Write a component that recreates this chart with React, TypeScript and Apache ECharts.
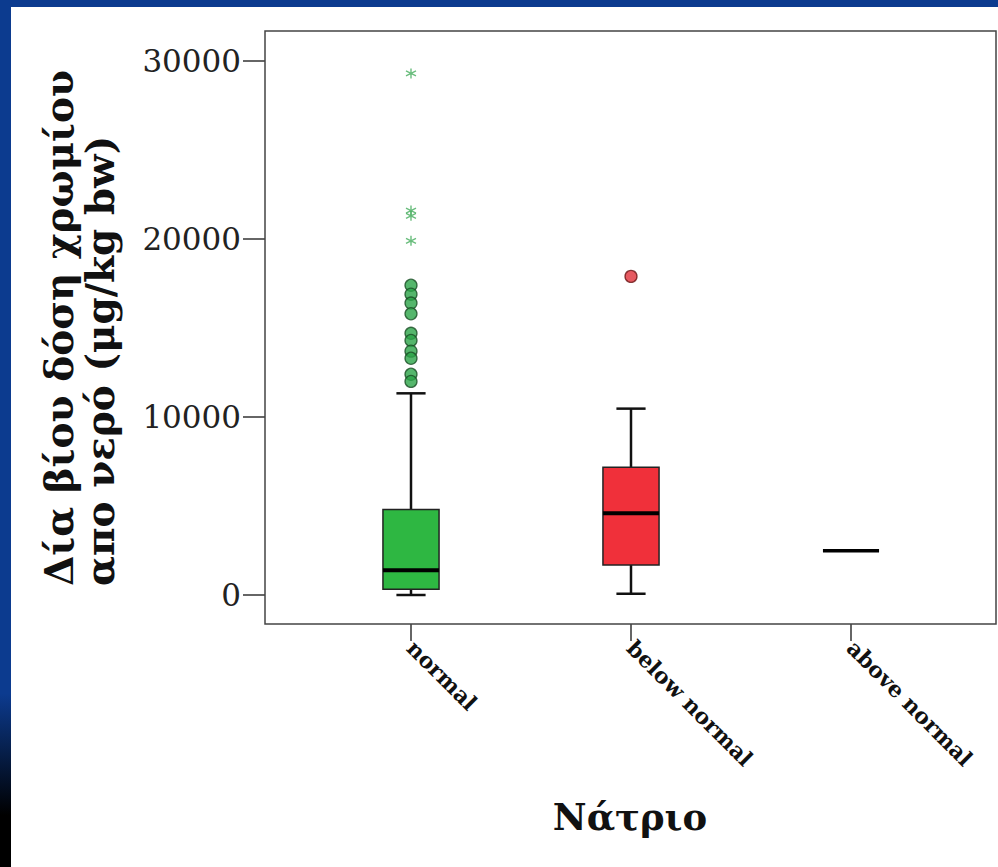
import React, { useEffect, useRef } from "react";
import * as echarts from "echarts";

// ---- data ----
const categories = ["normal", "below normal", "above normal"];
// [min, Q1, median, Q3, max]
const boxStats = [
  [0, 320, 1390, 4810, 11330],
  [70, 1690, 4590, 7170, 10470],
  [2480, 2480, 2480, 2480, 2480],
];
const boxColors = ["#2eb742", "#f0303a", "#2eb742"];
// outliers (circles)
const outlierNormal = [17400, 16900, 16400, 15800, 14700, 14300, 13700, 13300, 12400, 12000];
const outlierBelow = [17900];
// extremes (stars)
const extremeNormal = [29300, 21600, 21300, 19900];
const yTicks = { min: 0, max: 30000, interval: 10000 };
const yTitleLines = ["Δία βίου δόση χρωμίου", "απο νερό (μg/kg bw)"];
const xTitle = "Νάτριο";

const STAR = "path://M0,-10L0,10M-8.66,-5L8.66,5M-8.66,5L8.66,-5";
const SERIF = "'DejaVu Serif', serif";

export default function App() {
  const ref = useRef<HTMLDivElement>(null);
  useEffect(() => {
    if (!ref.current) return;
    const chart = echarts.init(ref.current, null, { renderer: "svg" });
    const boxData = boxStats.map((s, i) => [i, ...s]);
    const option: any = {
      animation: false,
      backgroundColor: "#ffffff",
      grid: [
        { left: 301, right: 37, top: 61, bottom: 272, containLabel: false },
        { left: 301, right: 37, top: 31, bottom: 243, containLabel: false },
      ],
      xAxis: [
        {
          type: "category",
          gridIndex: 0,
          data: categories,
          axisLine: { show: false },
          axisTick: { show: false },
          axisLabel: { show: false },
          splitLine: { show: false },
        },
        {
          type: "category",
          gridIndex: 1,
          data: categories,
          axisLine: { show: false },
          axisTick: { show: true, length: 17, alignWithLabel: true, lineStyle: { color: "#333", width: 1.5 } },
          axisLabel: {
            rotate: -45,
            margin: 20,
            color: "#111",
            fontFamily: SERIF,
            fontWeight: "bold",
            fontSize: 22,
          },
          splitLine: { show: false },
        },
      ],
      yAxis: [
        {
          type: "value",
          gridIndex: 0,
          min: yTicks.min,
          max: yTicks.max,
          interval: yTicks.interval,
          offset: 36,
          axisLine: { show: false },
          axisTick: { show: true, length: 22, lineStyle: { color: "#333", width: 1.5 } },
          axisLabel: {
            margin: 24,
            color: "#222",
            fontFamily: SERIF,
            fontSize: 31,
            formatter: (v: number) => String(v),
          },
          splitLine: { show: false },
        },
        {
          type: "value",
          gridIndex: 1,
          show: false,
        },
      ],
      graphic: [
        {
          type: "rect",
          shape: { x: 265, y: 31, width: 731, height: 593 },
          style: { fill: "none", stroke: "#444", lineWidth: 1.5 },
          z: 100,
          silent: true,
        },
        {
          type: "rect",
          shape: { x: 0, y: 0, width: 998, height: 7 },
          style: { fill: "#0c3b8f" },
        },
        {
          type: "rect",
          shape: { x: 0, y: 0, width: 11, height: 867 },
          style: {
            fill: new echarts.graphic.LinearGradient(0, 0, 0, 1, [
              { offset: 0, color: "#0c3b8f" },
              { offset: 0.8, color: "#0c3b8f" },
              { offset: 0.94, color: "#000000" },
              { offset: 1, color: "#000000" },
            ]),
          },
        },
        {
          type: "text",
          x: 59,
          y: 586,
          rotation: Math.PI / 2,
          style: {
            text: yTitleLines[0],
            fill: "#111",
            font: `bold 39px ${SERIF}`,
            textAlign: "left",
            textVerticalAlign: "middle",
          },
        },
        {
          type: "text",
          x: 100,
          y: 586,
          rotation: Math.PI / 2,
          style: {
            text: yTitleLines[1],
            fill: "#111",
            font: `bold 39px ${SERIF}`,
            textAlign: "left",
            textVerticalAlign: "middle",
          },
        },
        {
          type: "text",
          x: 630,
          y: 817,
          style: {
            text: xTitle,
            fill: "#111",
            font: `bold 37px ${SERIF}`,
            textAlign: "center",
            textVerticalAlign: "middle",
          },
        },
      ],
      series: [
        {
          type: "custom",
          xAxisIndex: 0,
          yAxisIndex: 0,
          data: boxData,
          encode: { x: 0, y: [1, 2, 3, 4, 5] },
          renderItem: (params: any, api: any) => {
            const idx = api.value(0);
            const vals = [1, 2, 3, 4, 5].map((d) => api.value(d));
            const pts = vals.map((v: number) => api.coord([idx, v]));
            const cx = pts[0][0];
            const band = api.size([1, 0])[0];
            const bw = band * 0.255;
            const cap = bw * 0.52;
            const [pMin, pQ1, pMed, pQ3, pMax] = pts;
            const children: any[] = [];
            const flat = vals[0] === vals[4];
            if (!flat) {
              children.push(
                { type: "line", shape: { x1: cx, y1: pQ3[1], x2: cx, y2: pMax[1] }, style: { stroke: "#111", lineWidth: 2.5 } },
                { type: "line", shape: { x1: cx, y1: pQ1[1], x2: cx, y2: pMin[1] }, style: { stroke: "#111", lineWidth: 2.5 } },
                { type: "line", shape: { x1: cx - cap / 2, y1: pMax[1], x2: cx + cap / 2, y2: pMax[1] }, style: { stroke: "#111", lineWidth: 2.5 } },
                { type: "line", shape: { x1: cx - cap / 2, y1: pMin[1], x2: cx + cap / 2, y2: pMin[1] }, style: { stroke: "#111", lineWidth: 2.5 } },
                {
                  type: "rect",
                  shape: { x: cx - bw / 2, y: pQ3[1], width: bw, height: pQ1[1] - pQ3[1] },
                  style: { fill: boxColors[idx], stroke: "#222", lineWidth: 1.5 },
                }
              );
            }
            children.push({
              type: "line",
              shape: { x1: cx - bw / 2, y1: pMed[1], x2: cx + bw / 2, y2: pMed[1] },
              style: { stroke: "#000", lineWidth: flat ? 3.5 : 4 },
            });
            return { type: "group", children };
          },
          z: 2,
        },
        {
          type: "scatter",
          xAxisIndex: 0,
          yAxisIndex: 0,
          data: outlierNormal.map((v) => [0, v]),
          symbol: "circle",
          symbolSize: 12,
          itemStyle: { color: "#2aa447", borderColor: "#1a4d25", borderWidth: 1.3 },
          z: 3,
        },
        {
          type: "scatter",
          xAxisIndex: 0,
          yAxisIndex: 0,
          data: outlierBelow.map((v) => [1, v]),
          symbol: "circle",
          symbolSize: 12,
          itemStyle: { color: "#e0313a", borderColor: "#6a1212", borderWidth: 1.3 },
          z: 3,
        },
        {
          type: "scatter",
          xAxisIndex: 0,
          yAxisIndex: 0,
          data: extremeNormal.map((v) => [0, v]),
          symbol: STAR,
          symbolSize: 10,
          itemStyle: { color: "#45ad5c", borderColor: "#45ad5c", borderWidth: 1.4 },
          z: 3,
        },
      ],
    };
    chart.setOption(option);
    return () => chart.dispose();
  }, []);
  return (
    <div
      ref={ref}
      style={{ position: "fixed", left: 0, top: 0, width: 998, height: 867 }}
    />
  );
}
